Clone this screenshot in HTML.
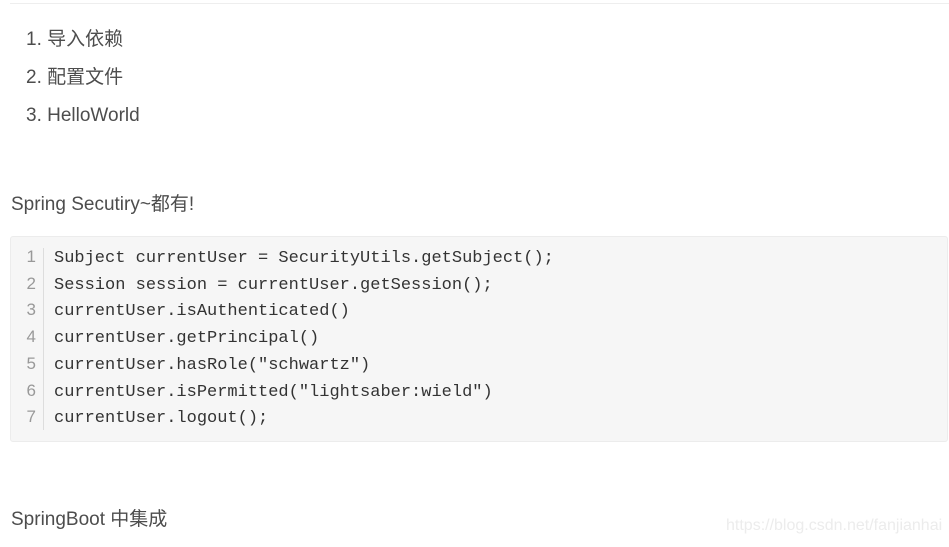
<!DOCTYPE html>
<html><head><meta charset="utf-8"><style>
body{margin:0;width:949px;height:547px;background:#fff;overflow:hidden;position:relative;font-family:"Liberation Sans","Noto Sans CJK SC",sans-serif;color:#4d4d4d}
.t{position:absolute;font-size:19px;line-height:24px;white-space:nowrap}
.hr{position:absolute;left:10px;right:0;top:3px;height:1px;background:#eee}
.code{position:absolute;left:10px;top:236px;width:936px;height:204px;background:#f6f6f6;border:1px solid #ececec;border-radius:3px}
.sep{position:absolute;left:43px;top:248px;width:1px;height:182px;background:#ddd}
.ln{position:absolute;left:22px;width:14px;text-align:right;font-family:"Liberation Sans",sans-serif;font-size:17px;color:#999;line-height:22px;margin-top:-2px}
.c{position:absolute;left:54px;font-family:"Liberation Mono",monospace;font-size:17px;color:#333;white-space:pre;line-height:22px}
.wm{position:absolute;left:726px;top:517px;font-size:16px;color:#ececec;white-space:nowrap}
</style></head><body>
<div class="hr"></div>
<div class="t" style="left:26px;top:28px">1. 导入依赖</div>
<div class="t" style="left:26px;top:66px">2. 配置文件</div>
<div class="t" style="left:26px;top:104px">3. HelloWorld</div>
<div class="t" style="left:11px;top:193px">Spring Secutiry~都有!</div>
<div class="code"></div>
<div class="sep"></div>
<div class="ln" style="top:248px">1</div><div class="c" style="top:248px">Subject currentUser = SecurityUtils.getSubject();</div>
<div class="ln" style="top:275px">2</div><div class="c" style="top:275px">Session session = currentUser.getSession();</div>
<div class="ln" style="top:301px">3</div><div class="c" style="top:301px">currentUser.isAuthenticated()</div>
<div class="ln" style="top:328px">4</div><div class="c" style="top:328px">currentUser.getPrincipal()</div>
<div class="ln" style="top:355px">5</div><div class="c" style="top:355px">currentUser.hasRole("schwartz")</div>
<div class="ln" style="top:382px">6</div><div class="c" style="top:382px">currentUser.isPermitted("lightsaber:wield")</div>
<div class="ln" style="top:408px">7</div><div class="c" style="top:408px">currentUser.logout();</div>
<div class="t" style="left:11px;top:508px">SpringBoot 中集成</div>
<div class="wm">https://blog.csdn.net/fanjianhai</div>
</body></html>
